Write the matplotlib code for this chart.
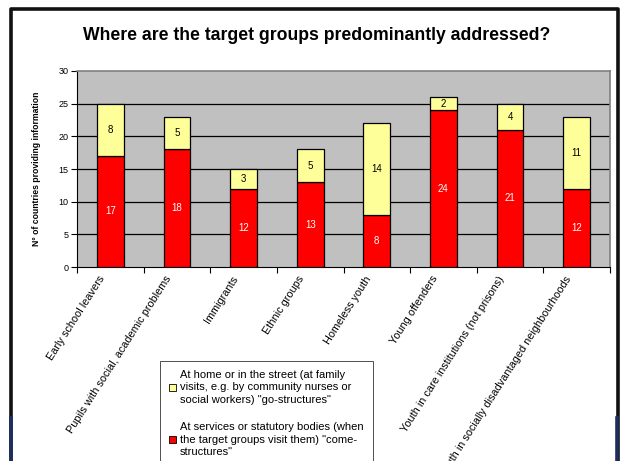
import matplotlib
matplotlib.use("Agg")
import matplotlib.pyplot as plt
import matplotlib.transforms as mtransforms
import numpy as np
from matplotlib.patches import Rectangle
from matplotlib.lines import Line2D

plt.rcParams["font.family"] = ["Liberation Sans", "DejaVu Sans"]

categories = [
    "Early school leavers",
    "Pupils with social, academic problems",
    "Immigrants",
    "Ethnic groups",
    "Homeless youth",
    "Young offenders",
    "Youth in care institutions (not prisons)",
    "Youth in socially disadvantaged neighbourhoods",
]
come_structures = [17, 18, 12, 13, 8, 24, 21, 12]
go_structures = [8, 5, 3, 5, 14, 2, 4, 11]

label_go = ('At home or in the street (at family\nvisits, e.g. by community nurses or\n'
            'social workers) "go-structures"')
label_come = ('At services or statutory bodies (when\nthe target groups visit them) "come-\n'
              'structures"')

RED = "#FF0000"
YELLOW = "#FFFF99"
GREY_BG = "#C0C0C0"

W, H = 623, 461
fig = plt.figure(figsize=(W / 100, H / 100), dpi=100)

# axes placed in pixel terms of the canvas
x0, x1, ytop, ybot = 77, 610, 71, 267
ax = fig.add_axes([x0 / W, 1 - ybot / H, (x1 - x0) / W, (ybot - ytop) / H])
ax.set_facecolor(GREY_BG)

x = np.arange(len(categories))
red = np.array(come_structures)
yel = np.array(go_structures)
ax.bar(x, red, width=0.4, color=RED, edgecolor="black", linewidth=0.9, zorder=3)
ax.bar(x, yel, width=0.4, bottom=red, color=YELLOW, edgecolor="black",
       linewidth=0.9, zorder=3)

for xi, r, y in zip(x, red, yel):
    ax.text(xi, r / 2, str(r), ha="center", va="center", color="white",
            fontsize=7, zorder=4)
    ax.text(xi, r + y / 2, str(y), ha="center", va="center", color="black",
            fontsize=7, zorder=4)

ax.set_ylim(0, 30)
ax.set_xlim(-0.5, len(categories) - 0.5)
ax.set_yticks(range(0, 31, 5))
ax.tick_params(axis="y", labelsize=6.5, length=4, width=0.8, pad=2)
for yv in range(5, 30, 5):
    ax.axhline(yv, color="black", linewidth=0.9, zorder=1)

# category boundaries get the tick marks, centres carry the labels
ax.set_xticks(np.arange(-0.5, len(categories), 1.0))
ax.set_xticklabels([])
ax.tick_params(axis="x", which="major", length=4, width=0.8)
ax.set_xticks(x, minor=True)
ax.set_xticklabels(categories, minor=True, rotation=57.5, ha="right",
                   va="center", rotation_mode="anchor", fontsize=7.8)
ax.tick_params(axis="x", which="minor", length=0, pad=7)
shift = mtransforms.ScaledTranslation(-8 / 100, 0, fig.dpi_scale_trans)
for lbl in ax.get_xticklabels(minor=True):
    lbl.set_transform(lbl.get_transform() + shift)

for side in ["top", "right"]:
    ax.spines[side].set_color("#808080")
    ax.spines[side].set_linewidth(1.2)
ax.spines["left"].set_color("black")
ax.spines["bottom"].set_color("black")

ax.set_ylabel("N° of countries providing information", fontsize=6.2,
              fontweight="bold", labelpad=13)

fig.text(317 / W, 1 - 35 / H,
         "Where are the target groups predominantly addressed?",
         ha="center", va="center", fontsize=12.7, fontweight="bold")

handles = [
    Rectangle((0, 0), 1, 1, facecolor=YELLOW, edgecolor="black", linewidth=0.6),
    Rectangle((0, 0), 1, 1, facecolor=RED, edgecolor="black", linewidth=0.6),
]
leg = fig.legend(handles, [label_go, label_come], loc="upper left",
                 bbox_to_anchor=(160 / W, 1 - 361 / H), fontsize=8,
                 frameon=True, fancybox=False, edgecolor="black",
                 handlelength=0.6, handleheight=0.6, handletextpad=0.4,
                 labelspacing=1.6, borderpad=0.8, borderaxespad=0)
leg.get_frame().set_linewidth(0.6)
for t in leg.get_texts():
    t.set_linespacing(1.3)

# outer chart frame
fig.add_artist(Line2D([11 / W, 11 / W, 618 / W, 618 / W],
                      [0, 1 - 9.5 / H, 1 - 9.5 / H, 0],
                      transform=fig.transFigure, color="#111111", linewidth=2.6))
for xp in (11, 617):
    fig.add_artist(Line2D([xp / W, xp / W], [0, 1 - 418 / H],
                          transform=fig.transFigure, color="#1c2f5e",
                          linewidth=2.6))

fig.savefig("out.png", dpi=100)
